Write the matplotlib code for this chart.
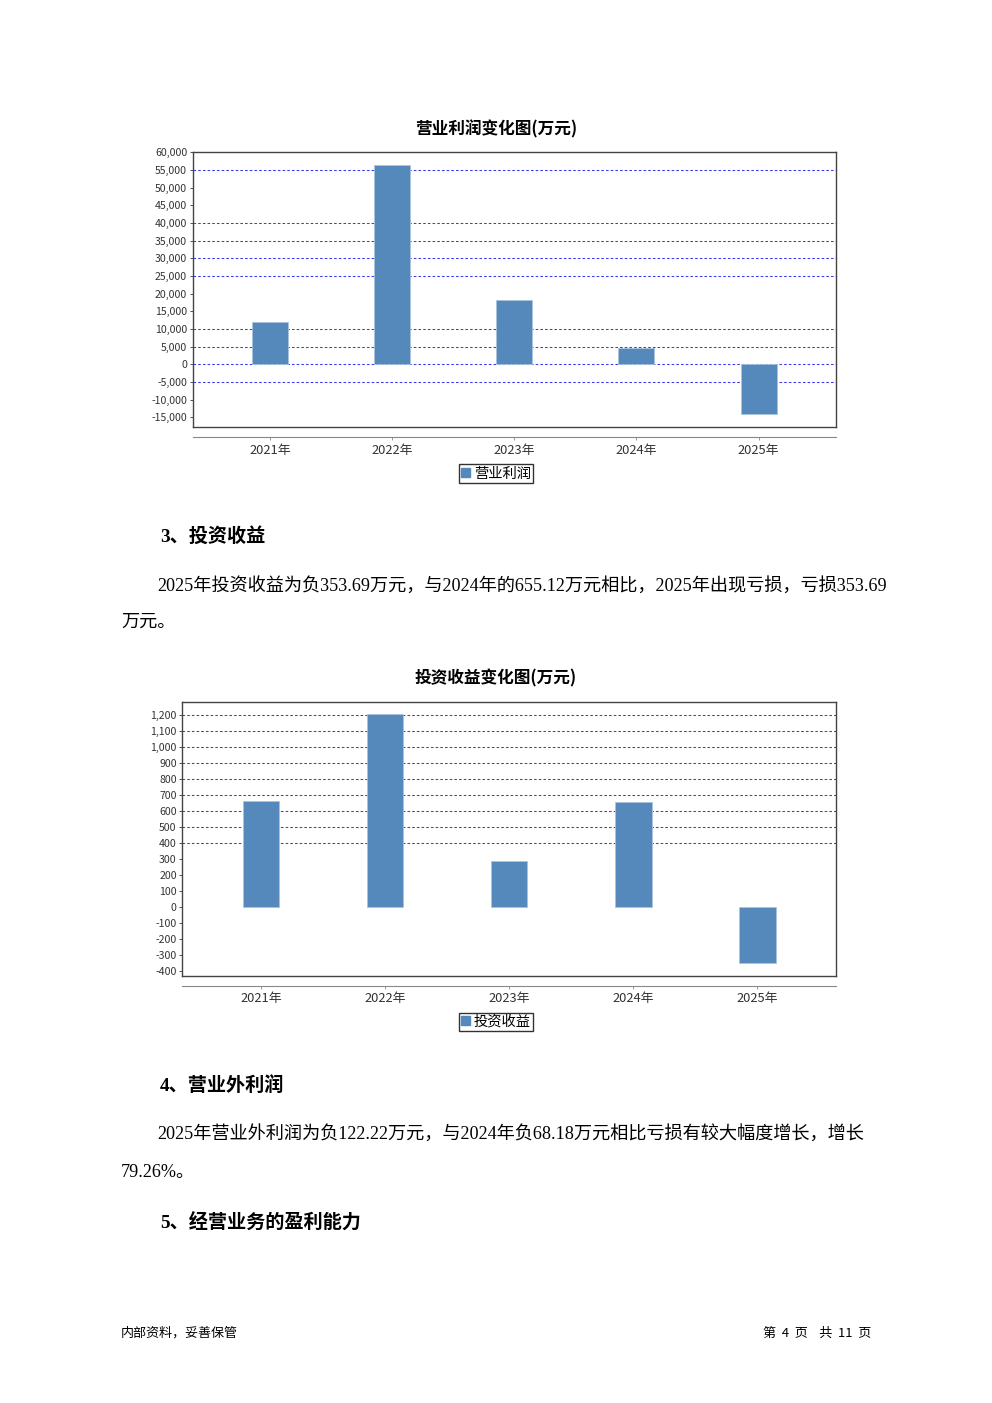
import matplotlib.pyplot as plt
import matplotlib.patches as mpatches
from matplotlib.ticker import FuncFormatter

plt.rcParams['font.family'] = ['Noto Sans CJK SC', 'DejaVu Sans']

W, H = 992, 1403

years = ['2021年', '2022年', '2023年', '2024年', '2025年']
op_profit = [11990, 56490, 18230, 4540, -14090]
op_ticks = list(range(-15000, 60001, 5000))
op_grid = [55000, 40000, 35000, 30000, 25000, 10000, 5000, 0, -5000]
inv_income = [664, 1208, 290, 655.12, -353.69]
inv_ticks = list(range(-400, 1201, 100))
inv_grid = [1200, 1100, 1000, 900, 800, 700, 600, 500, 400]

BAR = '#5589bb'
SERIF = ['Liberation Serif', 'Noto Sans CJK SC']


def rect(x0, y0, x1, y1):
    return [x0 / W, 1 - y1 / H, (x1 - x0) / W, (y1 - y0) / H]


def fy(y):
    return 1 - y / H


fig = plt.figure(figsize=(W / 100, H / 100), dpi=100)


def bar_chart(title, title_y, box, ylim, vals, ticks, grid, xaxis_y, legend_label, legend_y):
    x0, y0, x1, y1 = box
    ax = fig.add_axes(rect(x0, y0, x1, y1))
    xs = range(len(vals))
    ax.bar(xs, vals, width=0.295, color=BAR, edgecolor='#a9c4de', linewidth=0.6, zorder=3)
    ax.set_xlim(-0.634, len(vals) - 1 + 0.634)
    ax.set_ylim(*ylim)
    for g in grid:
        ax.axhline(g, color='#3a3af0', linestyle=(0, (2.5, 2)), linewidth=0.75, zorder=1)
    ax.set_yticks(ticks)
    ax.yaxis.set_major_formatter(FuncFormatter(lambda v, p: f'{v:,.0f}'))
    ax.tick_params(axis='y', labelsize=7.6, length=2, width=0.6, colors='#333333', pad=2)
    ax.set_xticks([])
    for s in ax.spines.values():
        s.set_color('#444444')
        s.set_linewidth(1.0)

    # category axis drawn just below the plot box
    cx = fig.add_axes(rect(x0, xaxis_y, x1, xaxis_y + 0.5))
    cx.set_xlim(ax.get_xlim())
    cx.set_yticks([])
    for s in ['left', 'right', 'top']:
        cx.spines[s].set_visible(False)
    cx.spines['bottom'].set_color('#888888')
    cx.set_xticks(list(xs))
    cx.set_xticklabels(years)
    cx.tick_params(axis='x', labelsize=9.3, length=2, width=0.6, colors='#888888',
                   labelcolor='#333333', pad=3)
    cx.patch.set_visible(False)

    fig.text(496 / W, fy(title_y), title, ha='center', va='center',
             fontsize=12, fontweight='bold')
    h = mpatches.Patch(color=BAR, label=legend_label)
    fig.legend(handles=[h], loc='center', bbox_to_anchor=(496 / W, fy(legend_y)),
               fontsize=10.3, frameon=True, fancybox=False, edgecolor='black',
               handlelength=0.6, handleheight=0.6, handletextpad=0.3,
               borderpad=0.15, borderaxespad=0)


bar_chart('营业利润变化图(万元)', 129, (192.7, 152.3, 836, 426.7), (-17700, 60000),
          op_profit, op_ticks, op_grid, 436.5, '营业利润', 473.5)
bar_chart('投资收益变化图(万元)', 678, (182.3, 701.7, 836, 976), (-432, 1285),
          inv_income, inv_ticks, inv_grid, 985, '投资收益', 1022)

# document text
fig.text(160 / W, fy(536), '3、投资收益', fontsize=13.8, fontweight='bold', family=SERIF, va='center')
fig.text(157 / W, fy(586), '2025年投资收益为负353.69万元，与2024年的655.12万元相比，2025年出现亏损，亏损353.69',
         fontsize=13.1, family=SERIF, va='center')
fig.text(121 / W, fy(622), '万元。', fontsize=13.1, family=SERIF, va='center')

fig.text(160 / W, fy(1085), '4、营业外利润', fontsize=13.8, fontweight='bold', family=SERIF, va='center')
fig.text(157 / W, fy(1134), '2025年营业外利润为负122.22万元，与2024年负68.18万元相比亏损有较大幅度增长，增长',
         fontsize=13.1, family=SERIF, va='center')
fig.text(121 / W, fy(1172), '79.26%。', fontsize=13.1, family=SERIF, va='center')
fig.text(160 / W, fy(1222), '5、经营业务的盈利能力', fontsize=13.8, fontweight='bold', family=SERIF, va='center')

fig.text(121 / W, fy(1333), '内部资料，妥善保管', fontsize=9.4, va='center')
fig.text(871 / W, fy(1333), '第  4  页    共  11  页', fontsize=9.4, ha='right', va='center')

fig.savefig('out.png', dpi=100)
